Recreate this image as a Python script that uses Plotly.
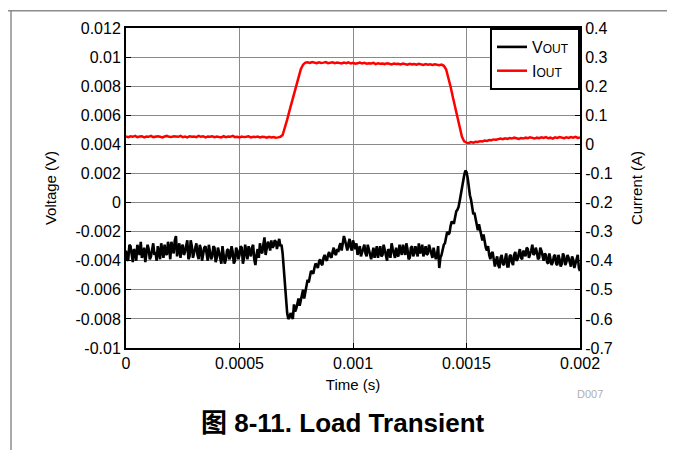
import plotly.graph_objects as go

# ---- data ----
dt = 1e-5  # sampling interval (s)

# VOUT samples (mV) at t = i*dt
vout_mv = [
    -3.3, -3.9, -3.0, -4.1, -3.4, -2.9, -3.6, -3.8, -3.1, -3.5,
    -3.2, -3.7, -2.8, -3.4, -3.0, -3.9, -3.3, -2.9, -3.6, -3.1,
    -2.7, -3.5, -2.3, -3.2, -3.8, -2.9, -3.4, -2.6, -3.7, -3.0,
    -3.5, -2.8, -3.9, -3.2, -3.6, -3.0, -4.0, -3.3, -3.7, -3.1,
    -3.8, -3.4, -4.2, -3.5, -3.9, -3.2, -3.7, -3.4, -4.0, -3.3,
    -3.6, -3.1, -3.8, -3.4, -3.0, -3.7, -2.9, -4.3, -3.2, -2.8,
    -3.5, -2.4, -3.1, -2.9, -2.6, -3.0, -2.7, -2.8, -3.0,
    -3.5, -6.0, -7.6, -7.9, -7.8, -7.0, -7.3, -6.6, -6.8, -6.0, -6.2,
    -5.3, -5.0, -4.8, -4.5, -4.3, -4.1, -4.2, -3.8, -3.9, -3.6,
    -3.7, -3.4, -3.5, -3.2, -3.0, -3.3, -2.3, -3.0, -2.8, -3.1,
    -2.6, -3.2, -3.6, -3.0, -3.4, -2.9, -3.7, -3.3, -3.9, -3.1,
    -3.5, -3.8, -3.0, -3.6, -3.2, -4.0, -3.4, -2.8, -3.5, -3.1,
    -3.7, -3.3, -2.9, -3.6, -3.2, -3.8, -3.0, -3.5, -3.4, -2.8,
    -3.3, -3.7, -3.0, -3.5, -3.2, -3.8, -3.4, -3.6, -4.5,
    -3.6, -2.9, -2.4, -2.2, -1.6, -1.4, -1.0, -0.5, 0.1, 1.0, 1.9,
    2.1, 1.0, 0.2, -0.8, -1.2, -1.9, -1.8, -2.6, -2.7, -3.3, -3.6, -3.5, -3.9, -4.0,
    -4.3, -3.8, -4.2, -3.9, -4.4, -3.7, -4.1, -3.6, -4.0, -3.5,
    -3.8, -3.3, -3.7, -3.2, -3.6, -2.9, -3.5, -3.4, -3.8, -3.3,
    -4.0, -3.6, -4.2, -3.8, -4.1, -3.6, -4.3, -3.9, -4.2, -3.7,
    -4.1, -3.8, -4.4, -3.9, -4.2, -3.6, -4.7,
]

# VOUT samples (mV) at t = (i + 0.5)*dt
vout_mid_mv = [
    -4.0, -2.9, -3.7, -3.2, -4.0, -3.3, -2.7, -3.5, -4.1, -2.9,
    -3.9, -3.1, -3.6, -4.0, -3.4, -2.8, -3.8, -3.5, -2.7, -3.9,
    -3.1, -2.6, -3.7, -2.8, -3.1, -3.6, -2.8, -3.9, -2.6, -3.8,
    -3.0, -3.6, -2.9, -4.0, -3.1, -3.7, -2.9, -3.9, -3.0, -4.1,
    -3.1, -3.9, -3.0, -4.2, -3.3, -3.9, -3.0, -4.2, -3.1, -3.9,
    -3.0, -4.2, -2.9, -3.9, -3.5, -3.1, -3.9, -3.6, -3.8, -3.3,
    -2.9, -3.6, -2.7, -3.3, -3.1, -2.6, -3.2, -2.5,
    -2.9, -4.6, -7.0, -8.0, -7.6, -8.0, -7.5, -6.8, -7.1, -6.3,
    -6.6, -5.6, -5.5, -4.7, -4.9, -4.2, -4.5, -3.9, -4.3, -3.6,
    -4.0, -3.4, -3.8, -3.1, -3.6, -3.4, -2.8, -2.8, -2.6, -3.3,
    -2.5, -3.3,
    -3.0, -2.8, -3.3, -3.7, -3.1, -3.5, -2.9, -3.6, -3.5, -3.8,
    -3.0, -3.4, -3.7, -2.9, -3.7, -3.2, -3.8, -3.2, -3.8, -3.6,
    -2.9, -3.6, -3.4, -2.8, -3.9, -3.1, -3.7, -3.0, -3.7, -3.5,
    -2.9, -3.4, -3.6, -2.9, -3.6, -3.1, -3.9, -3.0,
    -3.8, -3.1, -2.8, -2.0, -2.1, -1.3, -1.4, -0.6, -0.3, 0.6,
    1.4, 2.2, 1.7, 0.5, -0.4, -0.7, -1.7, -1.5, -2.3, -2.2,
    -3.1, -3.0, -3.9, -3.4, -4.4,
    -3.7, -4.5, -3.6, -4.3, -3.5, -4.4, -3.6,
    -4.3, -3.4, -3.9, -3.2, -3.9, -3.5, -3.1, -3.8, -3.3, -3.6,
    -3.1, -3.9, -3.1, -3.8, -3.5, -4.1, -3.5, -4.3, -3.7, -4.2,
    -3.6, -4.4, -3.5, -4.3, -3.6, -4.2, -3.7, -4.5, -3.8, -4.5,
]

# IOUT samples (A) at t = i*dt
iout_a = [
    0.027, 0.025, 0.028, 0.026, 0.029, 0.025, 0.027, 0.028, 0.024, 0.027,
    0.026, 0.029, 0.025, 0.027, 0.028, 0.026, 0.024, 0.027, 0.029, 0.026,
    0.025, 0.028, 0.027, 0.026, 0.029, 0.025, 0.027, 0.024, 0.028, 0.026,
    0.027, 0.025, 0.029, 0.026, 0.028, 0.024, 0.027, 0.026, 0.028, 0.025,
    0.027, 0.026, 0.024, 0.028, 0.025, 0.027, 0.026, 0.029, 0.025, 0.026,
    0.024, 0.027, 0.025, 0.026, 0.028, 0.024, 0.026, 0.025, 0.027, 0.024,
    0.026, 0.025, 0.023, 0.026, 0.024, 0.025, 0.023, 0.024, 0.026,
    0.032, 0.055, 0.085, 0.115, 0.145, 0.175, 0.205, 0.235, 0.258, 0.274, 0.281,
    0.282, 0.280, 0.283, 0.281, 0.279, 0.282, 0.280, 0.281, 0.283, 0.279,
    0.280, 0.282, 0.279, 0.281, 0.280, 0.278, 0.281, 0.279, 0.282, 0.278,
    0.280, 0.277, 0.279, 0.281, 0.278, 0.280, 0.277, 0.279, 0.278, 0.280,
    0.276, 0.279, 0.277, 0.278, 0.276, 0.279, 0.277, 0.275, 0.278, 0.276,
    0.277, 0.275, 0.278, 0.276, 0.274, 0.277, 0.275, 0.276, 0.274, 0.277,
    0.275, 0.273, 0.276, 0.274, 0.275, 0.273, 0.275, 0.274, 0.272, 0.274,
    0.270, 0.258, 0.232, 0.198, 0.162, 0.126, 0.090, 0.055, 0.026, 0.010, 0.006,
    0.005, 0.008, 0.006, 0.009, 0.008, 0.011, 0.010, 0.013, 0.012, 0.015,
    0.014, 0.017, 0.016, 0.018, 0.020, 0.018, 0.021, 0.019, 0.022, 0.020,
    0.023, 0.021, 0.019, 0.022, 0.020, 0.023, 0.021, 0.024, 0.022, 0.020,
    0.023, 0.021, 0.024, 0.022, 0.025, 0.021, 0.023, 0.020, 0.024, 0.022,
    0.025, 0.023, 0.021, 0.024, 0.022, 0.025, 0.023, 0.026, 0.022, 0.024,
]

x_ticks = [0, 0.0005, 0.001, 0.0015, 0.002]
x_ticktext = ["0", "0.0005", "0.001", "0.0015", "0.002"]
v_ticks = [-0.01, -0.008, -0.006, -0.004, -0.002, 0, 0.002, 0.004, 0.006, 0.008, 0.01, 0.012]
v_ticktext = ["-0.01", "-0.008", "-0.006", "-0.004", "-0.002", "0",
              "0.002", "0.004", "0.006", "0.008", "0.01", "0.012"]
i_ticks = [-0.7, -0.6, -0.5, -0.4, -0.3, -0.2, -0.1, 0, 0.1, 0.2, 0.3, 0.4]
i_ticktext = ["-0.7", "-0.6", "-0.5", "-0.4", "-0.3", "-0.2", "-0.1", "0",
              "0.1", "0.2", "0.3", "0.4"]

# merge the two VOUT sample sets in time order
vt, vv = [], []
for i, v in enumerate(vout_mv):
    vt.append(i * dt)
    vv.append(v / 1000)
    if i < len(vout_mid_mv):
        vt.append((i + 0.5) * dt)
        vv.append(vout_mid_mv[i] / 1000)
it = [i * dt for i in range(len(iout_a))]

FONT = "Liberation Sans, Arial, Noto Sans CJK SC, sans-serif"

fig = go.Figure()
fig.add_trace(go.Scatter(
    x=vt, y=vv, mode="lines", yaxis="y",
    name="V<span style='font-size:12px'>OUT</span> ",
    line=dict(color="black", width=2.6),
))
fig.add_trace(go.Scatter(
    x=it, y=iout_a, mode="lines", yaxis="y2",
    name="I<span style='font-size:12px'>OUT</span> ",
    line=dict(color="#ff0000", width=2.5),
))

axis_common = dict(
    showline=True, linecolor="black", linewidth=2, mirror=True,
    ticks="inside", ticklen=5, tickcolor="black", tickwidth=1,
    tickfont=dict(family=FONT, size=16, color="black"),
    zeroline=False,
)

fig.update_layout(
    width=667, height=442,
    margin=dict(l=118, r=95, t=18, b=102),
    paper_bgcolor="white", plot_bgcolor="white",
    font=dict(family=FONT, color="black"),
    showlegend=True,
    legend=dict(
        x=1, y=1, xanchor="right", yanchor="top",
        bgcolor="white", bordercolor="black", borderwidth=2,
        font=dict(family=FONT, size=16, color="black"),
        tracegroupgap=0,
    ),
    xaxis=dict(
        range=[0, 0.002], tickvals=x_ticks, ticktext=x_ticktext,
        showgrid=True, gridcolor="#8a8a8a", gridwidth=1,
        title=dict(text="Time (s)", font=dict(family=FONT, size=15), standoff=8),
        **axis_common,
    ),
    yaxis=dict(
        range=[-0.01, 0.012], tickvals=v_ticks, ticktext=v_ticktext,
        showgrid=True, gridcolor="#8a8a8a", gridwidth=1,
        title=dict(text="Voltage (V)", font=dict(family=FONT, size=15), standoff=15),
        **axis_common,
    ),
    yaxis2=dict(
        range=[-0.7, 0.4], tickvals=i_ticks, ticktext=i_ticktext,
        overlaying="y", side="right", showgrid=False,
        title=dict(text="Current (A)", font=dict(family=FONT, size=15), standoff=20),
        **axis_common,
    ),
    shapes=[
        dict(type="line", xref="paper", yref="paper",
             x0=-0.27, x1=1.21, y0=1.0537, y1=1.0537,
             line=dict(color="#8c8c8c", width=1.5)),
        dict(type="line", xref="paper", yref="paper",
             x0=-0.2533, x1=-0.2533, y0=1.0537, y1=-0.32,
             line=dict(color="#8c8c8c", width=1.5)),
    ],
    annotations=[
        dict(text="<b>图 8-11. Load Transient</b>", xref="paper", yref="paper",
             x=0.4780, y=-0.2329, xanchor="center", yanchor="middle",
             showarrow=False, font=dict(family=FONT, size=26, color="black")),
        dict(text="D007", xref="paper", yref="paper",
             x=1.022, y=-0.1429, xanchor="center", yanchor="middle",
             showarrow=False, font=dict(family=FONT, size=11, color="#b0b0b0")),
    ],
)

fig.write_html("out.html")
